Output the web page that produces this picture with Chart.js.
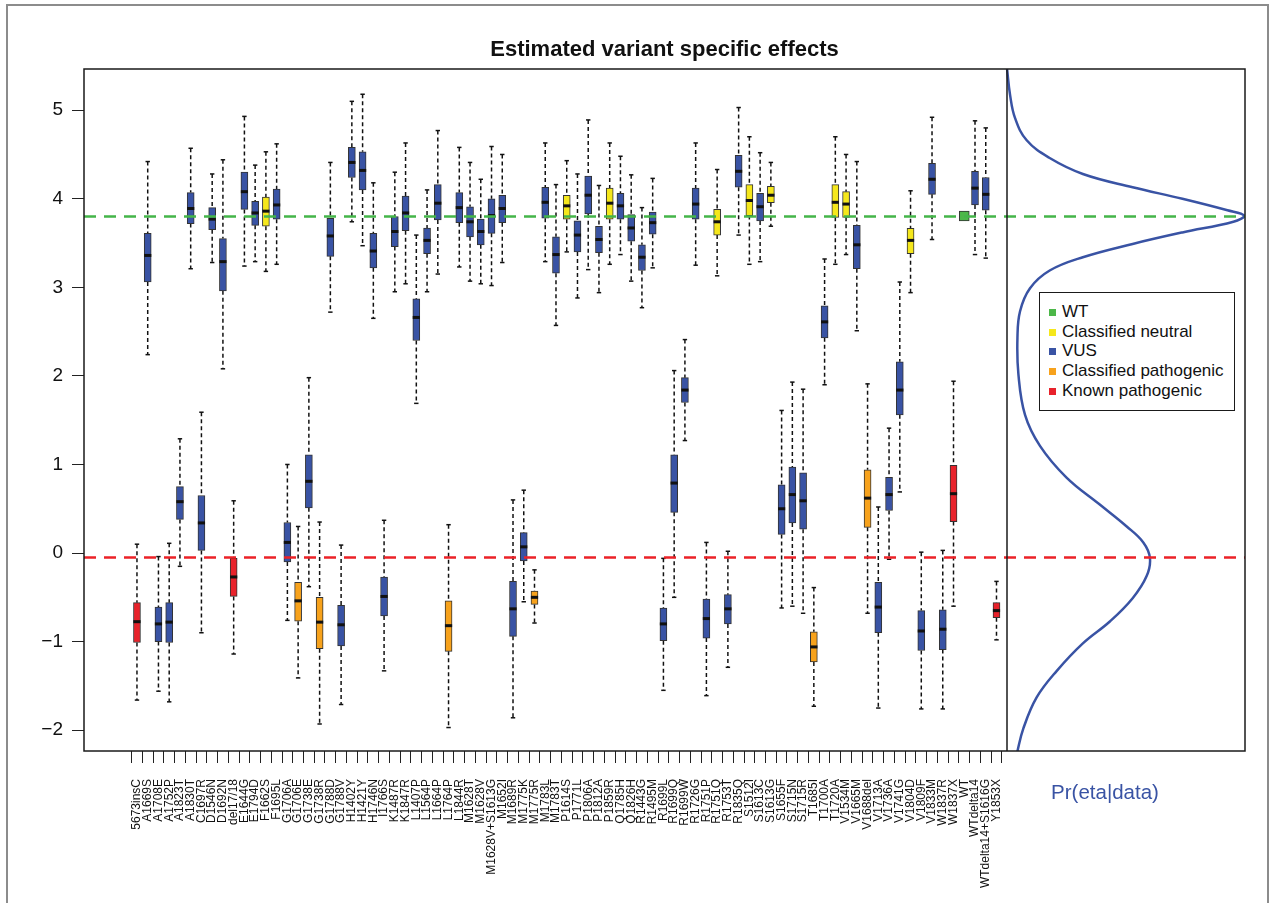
<!DOCTYPE html>
<html>
<head>
<meta charset="utf-8">
<title>Estimated variant specific effects</title>
<script src="https://cdn.jsdelivr.net/npm/chart.js@4.4.1/dist/chart.umd.min.js"></script>
<style>
  html, body { margin: 0; padding: 0; background: #fff; }
  #wrap { position: relative; width: 1275px; height: 903px; overflow: hidden; }
  #outer { position: absolute; left: 6px; top: 4px; width: 1263px; height: 930px; border: 2px solid #8c8c8c; box-sizing: border-box; }
  #plot { position: absolute; left: 0; top: 0; }
  #legend {
    position: absolute; left: 1039px; top: 292px; width: 196px; height: 119px;
    box-sizing: border-box; border: 1px solid #1a1a1a; background: #fff;
    padding: 9px 0 0 9px; font: 17px "Liberation Sans", Arial, sans-serif; color: #111;
  }
  #legend div { height: 19.7px; line-height: 19.7px; white-space: nowrap; }
  #legend span { display: inline-block; width: 7px; height: 7px; margin-right: 6px; vertical-align: 1px; }
</style>
</head>
<body>
<div id="wrap">
  <div id="outer"></div>
  <canvas id="plot" width="1275" height="903"></canvas>
  <div id="legend"></div>
</div>
<script>
// variantes en el eje x
const variants = [
  "5673insC", "A1669S", "A1708E", "A1752P", "A1823T", "A1830T", "C1697R", "D1546N", "D1692N", "del17/18",
  "E1644G", "E1794D", "F1662S", "F1695L", "G1706A", "G1706E", "G1738E", "G1738R", "G1788D", "G1788V",
  "H1402Y", "H1421Y", "H1746N", "I1766S", "K1487R", "K1847R", "L1407P", "L1564P", "L1664P", "L1764P",
  "L1844R", "M1628T", "M1628V", "M1628V+S1613G", "M1652I", "M1689R", "M1775K", "M1775R", "M1783L", "M1783T",
  "P1614S", "P1771L", "P1806A", "P1812A", "P1859R", "Q1785H", "Q1826H", "R1443G", "R1495M", "R1699L",
  "R1699Q", "R1699W", "R1726G", "R1751P", "R1751Q", "R1753T", "R1835Q", "S1512I", "S1613C", "S1613G",
  "S1655F", "S1715N", "S1715R", "T1685I", "T1700A", "T1720A", "V1534M", "V1665M", "V1688del", "V1713A",
  "V1736A", "V1741G", "V1804D", "V1809F", "V1833M", "W1837R", "W1837X", "WT", "WTdelta14", "WTdelta14+S1616G",
  "Y1853X"
];

// K = known pathogenic, C = classified pathogenic, N = classified neutral, V = VUS, W = WT
const groups = [
  "K","V","V","V","V","V","V","V","V","K",
  "V","V","N","V","V","C","V","C","V","V",
  "V","V","V","V","V","V","V","V","V","C",
  "V","V","V","V","V","V","V","C","V","V",
  "N","V","V","V","N","V","V","V","V","V",
  "V","V","V","V","N","V","V","N","V","N",
  "V","V","V","C","V","N","N","V","C","V",
  "V","V","N","V","V","V","K","W","V","V",
  "K"
];

const whiskLow = [
  -1.66, 2.24, -1.56, -1.68, -0.15, 3.21, -0.90, 3.28, 2.08, -1.14,
  3.24, 3.29, 3.18, 3.26, -0.76, -1.41, -0.38, -1.93, 2.72, -1.71,
  3.74, 3.47, 2.65, -1.33, 2.95, 3.04, 1.69, 2.95, 3.15, -1.97,
  3.23, 3.07, 3.04, 3.02, 3.28, -1.86, -0.55, -0.79, 3.29, 2.57,
  3.40, 2.88, 3.20, 2.94, 3.26, 3.37, 3.07, 2.77, 3.22, -1.55,
  -0.50, 1.27, 3.25, -1.61, 3.13, -1.29, 3.59, 3.26, 3.29, 3.69,
  -0.62, -0.60, -0.68, -1.73, 1.90, 3.26, 3.37, 2.51, -0.68, -1.75,
  -0.07, 0.69, 2.94, -1.76, 3.54, -1.76, -0.60, 3.75, 3.37, 3.33,
  -0.98
];
const boxLow = [
  -1.01, 3.06, -1.00, -1.01, 0.38, 3.72, 0.03, 3.65, 2.96, -0.49,
  3.88, 3.70, 3.69, 3.77, -0.10, -0.77, 0.51, -1.08, 3.35, -1.05,
  4.24, 4.10, 3.22, -0.71, 3.46, 3.64, 2.40, 3.38, 3.76, -1.11,
  3.73, 3.57, 3.48, 3.61, 3.73, -0.94, -0.09, -0.58, 3.78, 3.16,
  3.77, 3.40, 3.83, 3.39, 3.77, 3.77, 3.52, 3.19, 3.60, -0.99,
  0.46, 1.70, 3.77, -0.96, 3.59, -0.80, 4.13, 3.81, 3.75, 3.955,
  0.21, 0.34, 0.27, -1.23, 2.43, 3.79, 3.79, 3.21, 0.29, -0.90,
  0.48, 1.56, 3.38, -1.10, 4.05, -1.09, 0.355, 3.75, 3.93, 3.87,
  -0.73
];
const medians = [
  -0.775, 3.36, -0.80, -0.78, 0.58, 3.89, 0.34, 3.77, 3.29, -0.27,
  4.08, 3.84, 3.86, 3.93, 0.12, -0.54, 0.81, -0.78, 3.58, -0.81,
  4.41, 4.32, 3.41, -0.49, 3.63, 3.84, 2.66, 3.53, 3.95, -0.82,
  3.90, 3.74, 3.63, 3.81, 3.89, -0.63, 0.07, -0.50, 3.96, 3.37,
  3.92, 3.59, 4.04, 3.54, 3.95, 3.92, 3.67, 3.34, 3.73, -0.80,
  0.79, 1.84, 3.94, -0.74, 3.74, -0.63, 4.31, 3.98, 3.91, 4.04,
  0.50, 0.66, 0.59, -1.06, 2.61, 3.96, 3.94, 3.48, 0.62, -0.61,
  0.66, 1.84, 3.53, -0.88, 4.22, -0.86, 0.67, 3.80, 4.12, 4.05,
  -0.65
];
const boxHigh = [
  -0.56, 3.61, -0.61, -0.56, 0.75, 4.07, 0.65, 3.90, 3.55, -0.06,
  4.30, 3.97, 4.02, 4.11, 0.345, -0.33, 1.11, -0.50, 3.78, -0.59,
  4.58, 4.53, 3.61, -0.27, 3.80, 4.03, 2.87, 3.67, 4.16, -0.54,
  4.07, 3.91, 3.77, 4.00, 4.04, -0.32, 0.23, -0.43, 4.13, 3.57,
  4.04, 3.75, 4.255, 3.69, 4.12, 4.06, 3.82, 3.48, 3.85, -0.62,
  1.11, 1.98, 4.12, -0.52, 3.88, -0.47, 4.49, 4.16, 4.06, 4.14,
  0.77, 0.97, 0.905, -0.89, 2.79, 4.16, 4.08, 3.70, 0.94, -0.33,
  0.855, 2.16, 3.665, -0.65, 4.40, -0.64, 0.99, 3.86, 4.31, 4.24,
  -0.56
];
const whiskHigh = [
  0.10, 4.42, -0.04, 0.11, 1.29, 4.57, 1.59, 4.28, 4.44, 0.59,
  4.93, 4.38, 4.53, 4.62, 1.00, 0.30, 1.98, 0.35, 4.41, 0.09,
  5.10, 5.18, 4.18, 0.37, 4.30, 4.63, 3.59, 4.10, 4.77, 0.32,
  4.58, 4.41, 4.22, 4.59, 4.50, 0.60, 0.71, -0.19, 4.63, 4.16,
  4.43, 4.28, 4.89, 4.15, 4.63, 4.48, 4.27, 3.90, 4.23, -0.06,
  2.06, 2.41, 4.63, 0.12, 4.33, 0.02, 5.03, 4.70, 4.52, 4.41,
  1.61, 1.93, 1.85, -0.39, 3.32, 4.70, 4.50, 4.42, 1.91, 0.52,
  1.41, 3.06, 4.09, 0.01, 4.92, 0.03, 1.94, 3.86, 4.88, 4.80,
  -0.32
];

const densEta = [5.47, 5.17, 4.91, 4.66, 4.46, 4.28, 4.13, 4.00, 3.87, 3.81, 3.74, 3.62, 3.49, 3.34, 3.19, 2.99, 2.73,
  2.43, 2.02, 1.56, 1.21, 0.855, 0.55, 0.30, 0.12, -0.057, -0.26, -0.51, -0.77, -1.02, -1.33, -1.63, -1.98, -2.27];
const densVal = [0.0, 0.013, 0.034, 0.083, 0.18, 0.32, 0.53, 0.74, 0.93, 1.0, 0.955, 0.74, 0.53, 0.32, 0.18, 0.097, 0.055,
  0.044, 0.048, 0.076, 0.139, 0.25, 0.39, 0.505, 0.575, 0.603, 0.589, 0.53, 0.435, 0.32, 0.21, 0.125, 0.069, 0.041];

const yTicks = [-2, -1, 0, 1, 2, 3, 4, 5];
const wtLevel = 3.8;       // linea verde
const pathoLevel = -0.05;  // linea roja

const groupNames = { W: "WT", N: "Classified neutral", V: "VUS", C: "Classified pathogenic", K: "Known pathogenic" };
const groupColors = { W: "#4cb748", N: "#f5e71c", V: "#3953a4", C: "#f7a21c", K: "#e8222b" };
const legendOrder = ["W", "N", "V", "C", "K"];

// limites de los ejes
const X_MIN = -3.93, X_MAX = 104.13, X_SPLIT = 81.98;
const X2_MIN = -3.894, X2_MAX = 1.004;
const Y_MIN = -2.235, Y_MAX = 5.465;
const FONT = '"Liberation Sans", Arial, Helvetica, sans-serif';

// construir los datasets a partir de los arrays
const boxData = [], boxColors = [], wtBoxData = [], wtColors = [];
const whiskerData = [], stapleData = [], medianData = [];
variants.forEach((name, i) => {
  const x = i + 1;
  if (groups[i] === "W") {
    wtBoxData.push({ x: x, y: [boxLow[i], boxHigh[i]] });
    wtColors.push(groupColors.W);
    return;
  }
  boxData.push({ x: x, y: [boxLow[i], boxHigh[i]] });
  boxColors.push(groupColors[groups[i]]);
  whiskerData.push({ x: x, y: whiskHigh[i] }, { x: x, y: boxHigh[i] }, { x: x, y: null },
                   { x: x, y: boxLow[i] }, { x: x, y: whiskLow[i] }, { x: x, y: null });
  stapleData.push({ x: x, y: whiskHigh[i] }, { x: x, y: whiskLow[i] });
  medianData.push({ x: x, y: medians[i] });
});
const densData = densEta.map((e, i) => ({ x: densVal[i], y: e }));

// marco, division de paneles y textos
const framePlugin = {
  id: "frame",
  afterDraw(chart) {
    const { ctx, chartArea: a, scales } = chart;
    ctx.save();
    ctx.strokeStyle = "#1a1a1a";
    ctx.lineWidth = 1.5;
    ctx.strokeRect(a.left, a.top, a.right - a.left, a.bottom - a.top);
    const xs = Math.round(scales.x.getPixelForValue(X_SPLIT));
    ctx.beginPath();
    ctx.moveTo(xs, a.top);
    ctx.lineTo(xs, a.bottom);
    ctx.stroke();

    ctx.fillStyle = "#111";
    ctx.textAlign = "center";
    ctx.font = "bold 22px " + FONT;
    ctx.fillText("Estimated variant specific effects", (a.left + a.right) / 2, 56);

    ctx.fillStyle = "#3953a4";
    ctx.font = "20.5px " + FONT;
    ctx.fillText("Pr(eta|data)", 1105, 799);
    ctx.restore();
  }
};

new Chart(document.getElementById("plot"), {
  type: "bar",
  data: {
    datasets: [
      {
        type: "line", order: 0, xAxisID: "x2",
        data: [{ x: X2_MIN, y: wtLevel }, { x: X2_MAX, y: wtLevel }],
        borderColor: "#44b549", borderWidth: 2.5, borderDash: [12, 8], pointRadius: 0
      },
      {
        type: "line", order: 0, xAxisID: "x2",
        data: [{ x: X2_MIN, y: pathoLevel }, { x: X2_MAX, y: pathoLevel }],
        borderColor: "#ec2227", borderWidth: 2.5, borderDash: [12, 8], pointRadius: 0
      },
      {
        type: "scatter", order: 1, data: medianData,
        pointStyle: "line", radius: 3.6, borderWidth: 3, borderColor: "#111"
      },
      {
        type: "bar", order: 2, data: boxData, grouped: false, barThickness: 7,
        backgroundColor: boxColors, borderColor: "#333", borderWidth: 1, borderSkipped: false
      },
      {
        type: "bar", order: 2, data: wtBoxData, grouped: false, barThickness: 10,
        backgroundColor: wtColors, borderColor: "#333", borderWidth: 1, borderSkipped: false
      },
      {
        type: "scatter", order: 3, data: stapleData,
        pointStyle: "line", radius: 2.2, borderWidth: 1.5, borderColor: "#111"
      },
      {
        type: "line", order: 4, data: whiskerData, spanGaps: false, tension: 0,
        borderColor: "#111", borderWidth: 1.5, borderDash: [4, 3], pointRadius: 0
      },
      {
        type: "line", order: 5, xAxisID: "x2", data: densData, tension: 0.4,
        borderColor: "#3953a4", borderWidth: 2.5, pointRadius: 0
      }
    ]
  },
  options: {
    responsive: false,
    animation: false,
    events: [],
    layout: { padding: { left: 0, top: 69, right: 30, bottom: 0 } },
    plugins: { legend: { display: false }, tooltip: { enabled: false }, title: { display: false } },
    scales: {
      x: {
        type: "linear", min: X_MIN, max: X_MAX, offset: false,
        afterBuildTicks: axis => { axis.ticks = variants.map((v, i) => ({ value: i + 1 })); },
        afterFit: axis => { axis.height = 152; },
        grid: { drawOnChartArea: false, drawTicks: true, tickLength: 12, color: "#222", lineWidth: 1 },
        border: { display: false },
        ticks: {
          autoSkip: false, minRotation: 90, maxRotation: 90, padding: 16, color: "#111",
          font: { size: 12, family: FONT },
          callback: v => variants[v - 1]
        }
      },
      x2: { type: "linear", display: false, offset: false, min: X2_MIN, max: X2_MAX },
      y: {
        min: Y_MIN, max: Y_MAX,
        afterBuildTicks: axis => { axis.ticks = yTicks.map(v => ({ value: v })); },
        afterFit: axis => { axis.width = 84; },
        grid: { drawOnChartArea: false, drawTicks: true, tickLength: 12, color: "#222", lineWidth: 1 },
        border: { display: false },
        ticks: {
          padding: 9, color: "#111", font: { size: 19, family: FONT },
          callback: v => (v < 0 ? "\u2212" + Math.abs(v) : String(v))
        }
      }
    }
  },
  plugins: [framePlugin]
});

// leyenda
document.getElementById("legend").innerHTML = legendOrder.map(g =>
  `<div><span style="background:${groupColors[g]}"></span>${groupNames[g]}</div>`).join("");
</script>
</body>
</html>
